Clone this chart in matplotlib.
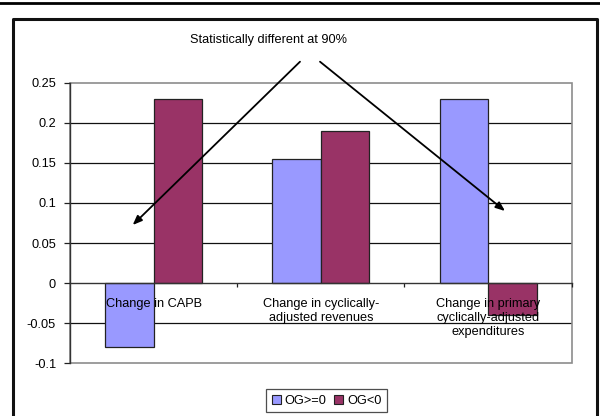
import matplotlib
matplotlib.use("Agg")
import matplotlib.pyplot as plt
from matplotlib.lines import Line2D
from matplotlib.patches import Rectangle, Patch, FancyArrowPatch
import numpy as np

plt.rcParams['font.family'] = ['Liberation Sans', 'DejaVu Sans']

categories = ["Change in CAPB",
              "Change in cyclically-\nadjusted revenues",
              "Change in primary\ncyclically-adjusted\nexpenditures"]
series_names = ["OG>=0", "OG<0"]
og_pos = [-0.08, 0.155, 0.23]
og_neg = [0.23, 0.19, -0.04]
yticks = [-0.1, -0.05, 0, 0.05, 0.1, 0.15, 0.2, 0.25]
ytick_labels = ["-0.1", "-0.05", "0", "0.05", "0.1", "0.15", "0.2", "0.25"]
note = "Statistically different at 90%"

blue = "#9999FF"
maroon = "#993366"
W, H = 600, 416
fs = 9.2

fig = plt.figure(figsize=(W / 100, H / 100), dpi=100)
ax = fig.add_axes([70 / W, 1 - 363.3 / H, (571.7 - 70) / W, (363.3 - 82.7) / H])

x = np.arange(len(categories))
bw = 0.29
ax.bar(x - bw / 2, og_pos, bw, color=blue, edgecolor="#222222", linewidth=0.9,
       label=series_names[0], zorder=2)
ax.bar(x + bw / 2, og_neg, bw, color=maroon, edgecolor="#222222", linewidth=0.9,
       label=series_names[1], zorder=2)

ax.set_xlim(-0.5, len(categories) - 0.5)
ax.set_ylim(-0.1, 0.25)

# horizontal gridlines
for v in yticks:
    if v in (-0.1, 0.25, 0):
        continue
    ax.axhline(v, color="#111111", linewidth=0.9, zorder=0)

# grey plot-area border
ax.add_patch(Rectangle((0, 0), 1, 1, transform=ax.transAxes, fill=False,
                       edgecolor="#8c8c8c", linewidth=1.2, zorder=0.5, clip_on=False))

for s in ["top", "right"]:
    ax.spines[s].set_visible(False)
ax.spines["left"].set_color("#333333")
ax.spines["left"].set_linewidth(1.0)
ax.spines["bottom"].set_position(("data", 0))
ax.spines["bottom"].set_color("#333333")
ax.spines["bottom"].set_linewidth(1.0)
ax.spines["left"].set_zorder(3)
ax.spines["bottom"].set_zorder(3)

ax.set_yticks(yticks)
ax.set_yticklabels(ytick_labels, fontsize=fs)
ax.tick_params(axis="y", length=4, width=0.9, pad=6, color="#222222")

ax.set_xticks([0.5, 1.5, 2.5])
ax.set_xticklabels(["", "", ""])
ax.set_xticks(x, minor=True)
ax.set_xticklabels(categories, minor=True, fontsize=fs, linespacing=1.2)
ax.tick_params(axis="x", which="major", length=3, width=0.9, color="#222222")
ax.tick_params(axis="x", which="minor", length=0, pad=11)
for lbl in ax.get_xticklabels(minor=True):
    lbl.set_multialignment("center")
ax.set_axisbelow(False)

# note with arrows
fig.text(268 / W, 1 - 40 / H, note, ha="center", va="center", fontsize=fs)
arrow_kw = dict(arrowstyle="-|>,head_length=0.55,head_width=0.22", color="black",
                lw=1.3, shrinkA=0, shrinkB=0, mutation_scale=10)
fig.add_artist(FancyArrowPatch((300, H - 61.7), (132.7, H - 225),
                               transform=None, **arrow_kw))
fig.add_artist(FancyArrowPatch((320, H - 61.7), (505, H - 211),
                               transform=None, **arrow_kw))

# legend
handles = [Patch(facecolor=blue, edgecolor="#222222", linewidth=0.8),
           Patch(facecolor=maroon, edgecolor="#222222", linewidth=0.8)]
leg = fig.legend(handles, series_names, loc="center",
                 bbox_to_anchor=(326.7 / W, 1 - 400.5 / H), ncol=2, fontsize=fs,
                 frameon=True, fancybox=False, handlelength=0.7, handleheight=0.7,
                 handletextpad=0.3, columnspacing=0.6, borderpad=0.45,
                 borderaxespad=0)
leg.get_frame().set_edgecolor("#222222")
leg.get_frame().set_linewidth(0.9)

# outer frame
fig.add_artist(Line2D([0, W], [H - 3, H - 3], transform=None, color="black", lw=2))
fig.add_artist(Line2D([13, 13, 597, 597], [0, H - 19, H - 19, 0], transform=None,
                      color="#111111", lw=2.2))

fig.savefig("out.png", dpi=100)
